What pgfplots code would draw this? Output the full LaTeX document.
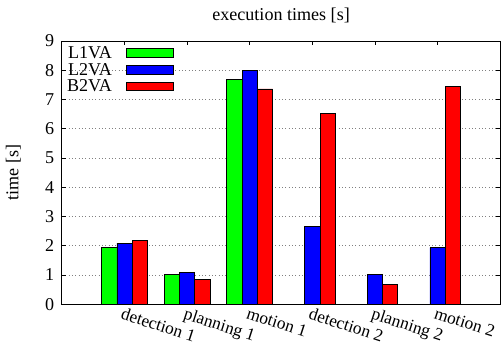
\documentclass[border=0pt]{standalone}
\usepackage{pgfplots}
\pgfplotsset{compat=1.18}
\usepackage{fontspec}
\setmainfont{Liberation Serif}
\definecolor{bgreen}{RGB}{0,255,0}
\definecolor{bblue}{RGB}{0,0,255}
\definecolor{bred}{RGB}{255,0,0}
\pgfplotsset{
  mybox/.style={legend image code/.code={\draw[##1,draw=black,line width=0.6pt] (0pt,-3.2pt) rectangle (34pt,3.2pt);}}
}
\begin{document}
\fontsize{13}{15.6}\selectfont
\begin{tikzpicture}
\path[use as bounding box] (-44.6pt,-31pt) rectangle (316pt,218.9pt);
\begin{axis}[
  at={(0,0)}, anchor=south west,
  scale only axis,
  width=315.4pt, height=189.4pt,
  xmin=0, xmax=7, ymin=0, ymax=9,
  ybar=0pt, bar width=11pt,
  xtick={1,2,3,4,5,6},
  xticklabels={detection 1,planning 1,motion 1,detection 2,planning 2,motion 2},
  ytick={0,1,...,9},
  /pgf/number format/assume math mode=true,
  tick align=inside,
  major tick length=3pt,
  tick style={black, line width=0.5pt},
  xtick pos=both, ytick pos=both,
  ymajorgrids,
  major grid style={dotted, gray, line width=0.5pt},
  axis line style={line width=0.7pt},
  xticklabel style={font=\fontsize{12.5}{15}\selectfont, rotate=-18, anchor=north west, xshift=-0.5pt, yshift=-1.5pt, inner sep=0.5pt},
  yticklabel style={xshift=-1pt},
  title={execution times [s]},
  title style={anchor=base, yshift=9pt},
  ylabel={time [s]},
  every axis y label/.style={at={(axis description cs:-0.111,0.5)}, rotate=90, anchor=center},
  legend plot pos=right,
  legend style={at={(axis description cs:0.0,1)}, anchor=north west, draw=none, fill=none,
    legend cell align=right, row sep=0pt, column sep=9pt, inner sep=2.5pt,
    nodes={inner sep=1pt, text height=9pt, text depth=1pt}},
]
\addplot[fill=bgreen, draw=black, line width=0.6pt, mybox] coordinates {(1,1.95) (2,1.03) (3,7.67)};
\addplot[fill=bblue, draw=black, line width=0.6pt, mybox] coordinates {(1,2.09) (2,1.09) (3,7.98) (4,2.65) (5,1.0) (6,1.93)};
\addplot[fill=bred, draw=black, line width=0.6pt, mybox] coordinates {(1,2.18) (2,0.83) (3,7.36) (4,6.53) (5,0.66) (6,7.46)};
\legend{L1VA,L2VA,B2VA}
\end{axis}
\end{tikzpicture}
\end{document}
